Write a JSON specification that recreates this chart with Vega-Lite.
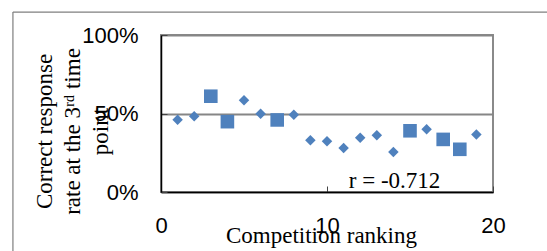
{
  "$schema": "https://vega.github.io/schema/vega-lite/v6.json",
  "autosize": {"type": "none"},
  "width": 332,
  "height": 157,
  "padding": {"left": 161, "top": 35, "right": 54, "bottom": 59},
  "background": "white",
  "config": {
    "view": {"stroke": "#8a8a8a", "strokeWidth": 2},
    "axis": {"labelColor": "black", "titleColor": "black", "titleFontWeight": "normal", "labelFlush": false}
  },
  "datasets": {
    "points": [
      {"rank": 1, "rate": 0.46, "kind": "diamond"},
      {"rank": 2, "rate": 0.482, "kind": "diamond"},
      {"rank": 3, "rate": 0.61, "kind": "square"},
      {"rank": 4, "rate": 0.448, "kind": "square"},
      {"rank": 5, "rate": 0.584, "kind": "diamond"},
      {"rank": 6, "rate": 0.499, "kind": "diamond"},
      {"rank": 7, "rate": 0.459, "kind": "square"},
      {"rank": 8, "rate": 0.492, "kind": "diamond"},
      {"rank": 9, "rate": 0.329, "kind": "diamond"},
      {"rank": 10, "rate": 0.323, "kind": "diamond"},
      {"rank": 11, "rate": 0.28, "kind": "diamond"},
      {"rank": 12, "rate": 0.346, "kind": "diamond"},
      {"rank": 13, "rate": 0.361, "kind": "diamond"},
      {"rank": 14, "rate": 0.255, "kind": "diamond"},
      {"rank": 15, "rate": 0.39, "kind": "square"},
      {"rank": 16, "rate": 0.399, "kind": "diamond"},
      {"rank": 17, "rate": 0.335, "kind": "square"},
      {"rank": 18, "rate": 0.272, "kind": "square"},
      {"rank": 19, "rate": 0.367, "kind": "diamond"}
    ],
    "note": [{"rank": 14.07, "rate": 0.025, "label": "r = -0.712"}],
    "frameV": [{"x": -8.92, "y": 1.146, "y2": -0.5}],
    "frameH": [{"x": -8.92, "x2": 30, "y": 1.146}]
  },
  "layer": [
    {
      "data": {"name": "frameV"},
      "mark": {"type": "rule", "color": "#7f7f7f", "strokeWidth": 1.2, "clip": false},
      "encoding": {
        "x": {"field": "x", "type": "quantitative", "scale": {"domain": [0, 20], "nice": false, "zero": false}},
        "y": {"field": "y", "type": "quantitative", "scale": {"domain": [0, 1], "nice": false, "zero": false}},
        "y2": {"field": "y2"}
      }
    },
    {
      "data": {"name": "frameH"},
      "mark": {"type": "rule", "color": "#7f7f7f", "strokeWidth": 1.2, "clip": false},
      "encoding": {
        "x": {"field": "x", "type": "quantitative"},
        "x2": {"field": "x2"},
        "y": {"field": "y", "type": "quantitative"}
      }
    },
    {
      "data": {"name": "points"},
      "mark": {"type": "point", "filled": true, "opacity": 1, "color": "#4f81bd"},
      "encoding": {
        "x": {
          "field": "rank", "type": "quantitative",
          "scale": {"domain": [0, 20], "nice": false, "zero": false},
          "axis": {
            "values": [0, 10, 20],
            "title": "Competition ranking",
            "titleFont": "Liberation Serif", "titleFontSize": 23,
            "titleBaseline": "alphabetic", "titleX": 160, "titleY": 50, "titleAnchor": null,
            "labelFont": "Liberation Sans", "labelFontSize": 22,
            "labelPadding": 29, "labelBaseline": "top",
            "tickSize": -6, "tickColor": "#444", "tickWidth": 1,
            "domainColor": "black", "domainWidth": 1.5,
            "grid": false
          }
        },
        "y": {
          "field": "rate", "type": "quantitative",
          "scale": {"domain": [0, 1], "nice": false, "zero": false},
          "axis": {
            "values": [0, 0.5, 1], "format": ".0%",
            "title": ["Correct response", "rate at the 3ʳᵈ time", "point"],
            "titleFont": "Liberation Serif", "titleFontSize": 23, "titleLineHeight": 28,
            "titleAngle": -90, "titleAlign": "center", "titleBaseline": "middle",
            "titleX": -117, "titleY": 96, "titleAnchor": null,
            "labelFont": "Liberation Sans", "labelFontSize": 22,
            "labelPadding": 29,
            "tickSize": -6, "tickColor": "#444", "tickWidth": 1,
            "domainColor": "black", "domainWidth": 1.5,
            "grid": true, "gridColor": "#868686", "gridWidth": 1.8
          }
        },
        "shape": {
          "field": "kind", "type": "nominal",
          "scale": {"domain": ["diamond", "square"], "range": ["diamond", "square"]},
          "legend": null
        },
        "size": {
          "field": "kind", "type": "nominal",
          "scale": {"domain": ["diamond", "square"], "range": [110, 185]},
          "legend": null
        }
      }
    },
    {
      "data": {"name": "note"},
      "mark": {"type": "text", "font": "Liberation Serif", "fontSize": 23, "align": "center", "baseline": "alphabetic", "color": "black"},
      "encoding": {
        "x": {"field": "rank", "type": "quantitative"},
        "y": {"field": "rate", "type": "quantitative"},
        "text": {"field": "label"}
      }
    }
  ]
}
